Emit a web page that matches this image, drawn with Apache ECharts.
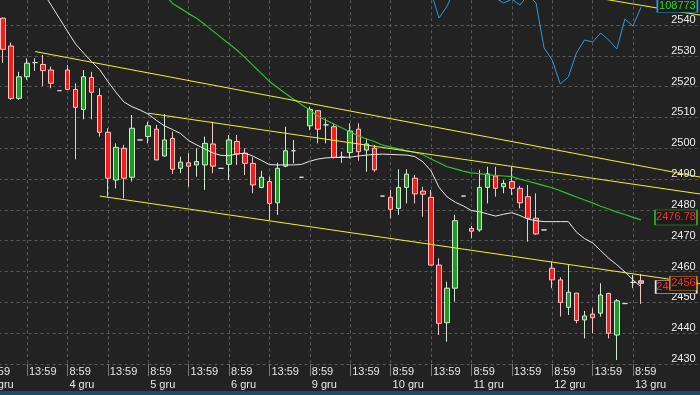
<!DOCTYPE html>
<html><head><meta charset="utf-8">
<style>html,body{margin:0;padding:0;background:#222222;}#c{width:700px;height:395px;}</style>
<script src="https://cdn.jsdelivr.net/npm/echarts@6/dist/echarts.min.js"></script>
</head><body><div id="c"></div>
<script>
// ---- data ----
const days = ['3 gru','4 gru','5 gru','6 gru','9 gru','10 gru','11 gru','12 gru','13 gru'];
const sessionTimes = ['8:59','13:59'];
// hourly candles: [open, close, low, high]
const candles = [
[2542.2,2532.1,2527.7,2542.5],[2533.2,2516.2,2515.7,2534.3],[2516.2,2523.2,2515.7,2524.8],[2523.2,2527.6,2522.2,2529.2],
[2527.8,2527.8,2525.1,2529.2],[2527.2,2525.2,2520.2,2530.3],[2525.4,2521.1,2519.5,2526.5],[2518.7,2518.7,2518.7,2518.7],
[2525.4,2519.1,2518.9,2527.0],[2519.1,2513.3,2496.4,2521.1],[2512.6,2523.2,2509.4,2525.4],[2523.0,2518.2,2509.4,2524.8],
[2517.1,2505.2,2503.8,2519.5],[2505.2,2490.3,2484.3,2506.5],[2489.7,2500.3,2487.0,2501.6],[2500.0,2490.3,2483.8,2501.1],
[2490.6,2506.5,2489.2,2510.8],[2502.7,2502.7,2502.7,2502.7],[2503.8,2507.3,2501.6,2508.6],[2506.2,2496.2,2496.2,2507.6],
[2497.5,2502.7,2497.3,2511.1],[2503.2,2493.2,2491.7,2505.4],[2493.5,2495.5,2491.9,2497.3],[2495.3,2494.2,2487.5,2498.4],
[2494.6,2495.7,2490.8,2500.0],[2494.6,2501.6,2486.5,2503.8],[2501.4,2494.2,2491.9,2508.6],[2493.5,2493.5,2493.5,2493.5],
[2494.8,2502.7,2489.7,2504.3],[2502.2,2498.1,2494.6,2504.3],[2498.4,2495.1,2491.3,2500.0],[2495.1,2488.1,2485.4,2497.1],
[2487.3,2490.6,2487.0,2492.7],[2489.2,2482.1,2476.7,2490.8],[2482.3,2493.5,2478.4,2495.3],[2494.2,2499.2,2493.8,2507.0],
[2499.2,2499.2,2495.1,2502.7],[2490.6,2490.6,2490.6,2490.6],[2507.3,2512.6,2505.9,2513.5],[2512.2,2506.2,2501.6,2512.4],
[2507.6,2507.6,2501.6,2509.7],[2507.0,2497.1,2496.7,2508.1],[2497.1,2497.1,2495.3,2498.9],[2498.6,2505.6,2496.7,2508.1],
[2506.2,2498.9,2496.0,2508.1],[2499.4,2501.4,2492.4,2503.2],[2500.0,2493.0,2492.4,2501.1],[2484.5,2484.5,2484.5,2484.5],
[2484.1,2480.2,2477.3,2486.5],[2480.5,2487.3,2478.4,2493.2],[2487.3,2491.6,2482.1,2493.2],[2490.3,2485.2,2482.1,2491.3],
[2486.1,2485.1,2477.8,2487.5],[2484.1,2462.1,2462.1,2486.5],[2462.1,2443.2,2439.4,2464.3],[2443.4,2454.6,2437.2,2456.7],
[2454.6,2476.5,2450.2,2478.4],[2484.5,2484.5,2484.5,2484.5],[2474.0,2473.1,2470.8,2474.8],[2473.5,2487.3,2472.9,2493.0],
[2487.3,2491.7,2482.1,2494.0],[2491.0,2487.0,2484.3,2494.0],[2487.5,2488.6,2485.4,2489.7],[2489.2,2487.0,2484.8,2494.0],
[2487.0,2482.3,2480.5,2487.8],[2484.3,2477.3,2469.7,2488.1],[2477.3,2472.2,2471.9,2485.4],[2473.5,2473.5,2473.5,2473.5],
[2461.1,2457.3,2454.6,2463.2],[2457.3,2450.0,2445.4,2458.1],[2448.4,2453.3,2445.9,2462.1],[2453.0,2444.1,2443.2,2453.0],
[2444.3,2445.6,2438.3,2447.2],[2446.2,2445.0,2440.0,2448.1],[2446.5,2452.4,2445.4,2456.2],[2452.9,2440.0,2438.3,2453.1],
[2439.4,2450.5,2431.3,2451.1],[2449.6,2449.6,2449.6,2449.6],[2456.5,2456.5,2454.6,2458.9],[2457.0,2456.2,2449.5,2459.2]
];
// short moving average (white)
const whiteMA = [null,null,null,null,2554.8,2550.6,2546.4,2542.2,2538.0,2533.9,
2530.9,2528.1,2525.5,2521.7,2518.2,2515.0,2513.5,2512.4,2511.1,2509.1,
2507.3,2506.1,2504.8,2502.5,2501.1,2499.8,2498.5,2497.7,2497.6,2498.2,
2498.4,2497.4,2496.1,2494.7,2494.6,2494.6,2494.6,2494.8,2495.8,2496.5,
2496.9,2497.0,2497.1,2497.1,2497.5,2497.8,2498.0,2498.1,2498.0,2497.9,
2497.8,2497.3,2495.6,2492.7,2487.3,2484.2,2482.5,2481.3,2479.8,2479.4,
2478.7,2478.0,2478.6,2479.1,2478.2,2477.0,2476.5,2476.2,2476.2,2476.2,
2476.2,2472.8,2470.7,2469.3,2466.8,2464.3,2462.2,2459.9,2457.3,2455.0];
// long moving average (green)
const greenMA = [null,null,null,null,null,null,null,null,null,null,
null,null,null,null,null,null,null,null,null,null,
2550.3,2547.0,2545.4,2543.7,2542.2,2540.2,2538.1,2536.0,2533.9,2531.8,
2529.4,2526.8,2524.3,2521.7,2519.7,2517.8,2515.9,2514.1,2512.4,2510.4,
2509.1,2507.9,2506.6,2505.3,2504.1,2503.0,2502.2,2501.0,2500.4,2499.8,
2499.2,2498.7,2497.9,2496.5,2495.3,2494.0,2493.3,2492.6,2492.0,2491.8,
2491.4,2491.2,2491.0,2490.8,2490.0,2489.3,2488.6,2487.9,2487.2,2486.2,
2485.2,2484.2,2483.2,2482.3,2481.2,2480.3,2479.3,2478.5,2477.6,2476.78];
// indicator on its own scale (blue)
const blueIndicator = [null,null,null,null,null,null,null,null,null,null,
null,null,null,null,null,null,null,null,null,null,
null,null,null,null,null,null,null,null,null,null,
null,null,null,null,null,null,null,null,null,null,
null,null,null,null,null,null,null,null,null,null,
109900,109900,109900,109373,108335,108821,109535,109860,109860,109860,
109860,109138,108943,109097,108862,109268,108943,107118,106631,105658,
105942,106915,107442,107361,107726,107442,107077,108294,108010,108773];
// trend lines: [[candleIndex, price], [candleIndex, price]]
const trendLines = [
  [[4,2531.4],[87,2490.3]],
  [[18,2511.4],[87,2484.9]],
  [[12,2484.5],[87,2455.8]],
  [[60,2554.7],[87,2542.9]]
];
const lastCloseTag = '2456';

// ---- chart ----
const LEAD = 2;            // empty slots before the first candle
const SLOTS = 90;
const PER_DAY = 10;
const TAG_SLOT = 85;
const FONT = '"Liberation Sans", Arial, sans-serif';

const cats = Array.from({length: SLOTS}, (_, s) => String(s));
const labelText = Array(SLOTS).fill('');
days.forEach((d, di) => sessionTimes.forEach((t, ti) => {
  if (di === days.length - 1 && ti === 1) return;
  labelText[di * PER_DAY + ti * PER_DAY / 2] = ti === 0 ? t + '\n' + d : t;
}));
const hasLabel = (idx) => labelText[idx] !== '';

const pad = (arr) => arr.map((v, i) => [i + LEAD, v]);
const candleData = candles.map((c, i) => {
  const v = [i + LEAD, c[0], c[1], c[2], c[3]];
  return i === candles.length - 1 ? {value: v, itemStyle: {color0: '#e68a8a'}} : v;
});
const last = (a) => a[a.length - 1];

function tag(value, text, size, offset, border, color, z) {
  return {
    z: z, silent: true, animation: false,
    symbol: 'rect', symbolSize: size, symbolOffset: offset,
    itemStyle: {color: '#1c1c1c', borderColor: border, borderWidth: 1},
    label: {show: true, position: 'inside', color: color, fontSize: 11, fontFamily: FONT, formatter: text},
    data: [{coord: [TAG_SLOT, value]}]
  };
}

const chart = echarts.init(document.getElementById('c'), null, {renderer: 'canvas'});
chart.setOption({
  animation: false,
  backgroundColor: '#222222',
  grid: {left: -13.4, top: -5.8, width: 719.1, height: 369.8, containLabel: false, outerBoundsMode: 'none'},
  xAxis: {
    type: 'category', data: cats, boundaryGap: false,
    axisLine: {show: false},
    axisTick: {show: true, interval: hasLabel, length: 12, lineStyle: {color: '#7a7a7a'}},
    axisLabel: {
      interval: hasLabel, formatter: (v) => labelText[+v], align: 'left', padding: [0, 0, 0, 2],
      margin: 1.5, color: '#e6e6e6', fontSize: 11, lineHeight: 13, fontFamily: FONT
    },
    splitLine: {show: true, interval: hasLabel, lineStyle: {color: '#595959', type: [3, 3]}}
  },
  yAxis: [{
    type: 'value', position: 'right', min: 2430, max: 2550, interval: 10, scale: true,
    axisLine: {show: false}, axisTick: {show: false},
    axisLabel: {
      inside: true, margin: 10, color: '#eeeeee', fontSize: 11, fontFamily: FONT,
      verticalAlign: 'bottom', lineHeight: 10,
      formatter: (v) => (v <= 2540 ? String(v) : '')
    },
    splitLine: {show: true, lineStyle: {color: '#595959', type: [3, 3]}}
  }, {
    type: 'value', min: 94300, max: 109300, show: false, scale: true
  }],
  series: [
    {
      type: 'candlestick', data: candleData, encode: {x: 0, y: [1, 2, 3, 4]},
      barWidth: 5, z: 2,
      itemStyle: {color: '#1f9a22', color0: '#ff1a1a', borderColor: '#d2ead2', borderColor0: '#f6c6c6', borderColorDoji: '#dddddd', borderWidth: 1},
      markPoint: tag(last(candles)[1], lastCloseTag, [27, 14], [10, 0], '#e08a1e', '#ff2a2a', 7)
    },
    {
      type: 'line', data: pad(greenMA), showSymbol: false, symbol: 'none', z: 3,
      lineStyle: {color: '#2cc42c', width: 1.2},
      markPoint: tag(last(greenMA), last(greenMA).toFixed(2), [42, 15], [2.6, -2.4], '#22bb22', '#ff2a2a', 5)
    },
    {
      type: 'line', data: pad(whiteMA), showSymbol: false, symbol: 'none', z: 3,
      lineStyle: {color: '#e8e8e8', width: 1},
      markPoint: tag(last(whiteMA), last(whiteMA).toFixed(2), [41, 13], [2.8, 0], '#e8e8e8', '#ff2a2a', 6)
    },
    {
      type: 'line', yAxisIndex: 1, data: pad(blueIndicator), showSymbol: false, symbol: 'none', z: 3,
      lineStyle: {color: '#3399dd', width: 1},
      markPoint: tag(last(blueIndicator), String(last(blueIndicator)), [40, 13], [4, -1.5], '#2b9bd8', '#22dd22', 5)
    }
  ].concat(trendLines.map((tl) => ({
    type: 'line', data: tl.map((p) => [p[0] + LEAD, p[1]]), showSymbol: false, symbol: 'none', z: 4,
    lineStyle: {color: '#f2f22a', width: 1}
  }))),
  graphic: [{type: 'rect', left: 0, bottom: 0, shape: {width: 700, height: 4}, style: {fill: '#1a4c72'}, silent: true}]
});
</script>
</body></html>
